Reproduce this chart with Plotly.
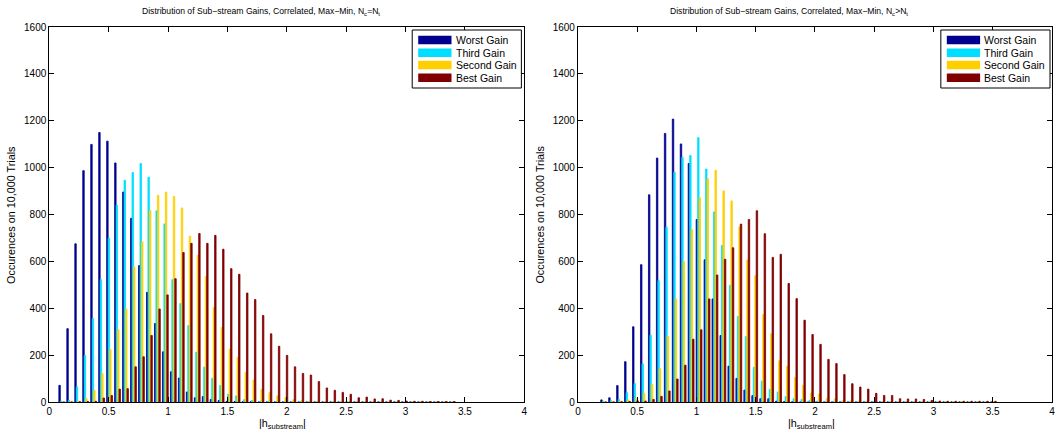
import plotly.graph_objects as go

# ---------------- data ----------------
series_names = ["Worst Gain", "Third Gain", "Second Gain", "Best Gain"]
series_colors = ["#00008F", "#00DFFF", "#FFCF00", "#800000"]

n_bins = 50
left_first_center = 0.105
right_first_center = 0.217
bin_step = 0.0671
left_centers = [round(left_first_center + bin_step * i, 4) for i in range(n_bins)]
right_centers = [round(right_first_center + bin_step * i, 4) for i in range(n_bins)]

# Left panel: Nc = Nt
left_worst = [71, 313, 675, 987, 1099, 1150, 1113, 1020, 896, 784,
              582, 468, 335, 214, 129, 102, 43, 18, 23, 11,
              7, 3, 2, 1, 1, 0, 0, 0, 0, 0,
              0, 0, 0, 0, 0, 0, 0, 0, 0, 0,
              0, 0, 0, 0, 0, 0, 0, 0, 0, 0]
left_third = [4, 7, 65, 199, 356, 522, 699, 840, 946, 979,
              1018, 959, 816, 760, 522, 420, 326, 213, 149, 101,
              70, 33, 26, 10, 7, 4, 3, 2, 1, 1,
              1, 1, 0, 0, 0, 0, 0, 0, 0, 0,
              0, 0, 0, 0, 0, 0, 0, 0, 0, 0]
left_second = [0, 1, 3, 14, 50, 122, 224, 309, 397, 577,
               684, 818, 882, 896, 877, 828, 708, 626, 535, 403,
               318, 226, 191, 126, 94, 54, 40, 26, 18, 10,
               5, 3, 2, 2, 1, 1, 1, 1, 1, 1,
               1, 1, 1, 1, 1, 1, 1, 1, 1, 1]
left_best = [0, 0, 1, 2, 3, 17, 28, 55, 57, 150,
             193, 284, 397, 457, 526, 638, 677, 719, 677, 711,
             652, 569, 545, 465, 437, 369, 291, 238, 199, 150,
             122, 115, 87, 60, 50, 41, 33, 18, 21, 13,
             14, 8, 7, 4, 3, 3, 2, 2, 2, 2]

# Right panel: Nc > Nt
right_worst = [9, 18, 70, 172, 321, 586, 884, 1041, 1146, 1207,
               1101, 1018, 779, 607, 440, 284, 153, 101, 51, 27,
               14, 14, 4, 2, 1, 0, 0, 0, 0, 0,
               0, 0, 0, 0, 0, 0, 0, 0, 0, 0,
               0, 0, 0, 0, 0, 0, 0, 0, 0, 0]
right_third = [4, 6, 11, 40, 79, 163, 285, 518, 745, 980,
               1044, 1052, 1128, 994, 811, 668, 498, 365, 279, 148,
               89, 54, 43, 23, 14, 11, 7, 4, 3, 2,
               1, 1, 1, 0, 0, 0, 0, 0, 0, 0,
               0, 0, 0, 0, 0, 0, 0, 0, 0, 0]
right_second = [1, 2, 4, 9, 16, 37, 75, 142, 281, 440,
                599, 736, 871, 953, 989, 901, 858, 747, 606, 539,
                373, 291, 176, 153, 105, 71, 38, 34, 16, 14,
                6, 5, 4, 3, 2, 2, 1, 1, 1, 1,
                1, 1, 1, 1, 1, 1, 1, 1, 1, 1]
right_best = [0, 0, 1, 2, 5, 4, 11, 24, 47, 98,
              157, 268, 308, 440, 542, 609, 658, 759, 779, 816,
              718, 617, 630, 506, 441, 349, 288, 246, 182, 164,
              117, 78, 64, 55, 37, 28, 28, 14, 13, 13,
              11, 7, 4, 3, 3, 3, 3, 3, 3, 3]

x_ticks = [0, 0.5, 1, 1.5, 2, 2.5, 3, 3.5, 4]
y_ticks = [0, 200, 400, 600, 800, 1000, 1200, 1400, 1600]

titles = ["Distribution of Sub\u2212stream Gains, Correlated, Max\u2212Min, N<sub>c</sub>=N<sub>t</sub>",
          "Distribution of Sub\u2212stream Gains, Correlated, Max\u2212Min, N<sub>c</sub>>N<sub>t</sub>"]
y_title = "Occurences on 10,000 Trials"
x_title = "|h<sub>substream</sub>|"

# ---------------- layout geometry (pixels) ----------------
W, H = 1058, 438
ML, MR, MT, MB = 49, 3, 27, 36
PW = W - ML - MR
PH = H - MT - MB
left_px = (49.3, 525.7)
right_px = (579.5, 1055.0)
dom_left = [(left_px[0] - ML) / PW, (left_px[1] - ML) / PW]
dom_right = [(right_px[0] - ML) / PW, (right_px[1] - ML) / PW]

FONT = "Liberation Sans, Arial, Helvetica, sans-serif"

fig = go.Figure()

panels = [
    ("x", "y", left_centers, [left_worst, left_third, left_second, left_best]),
    ("x2", "y2", right_centers, [right_worst, right_third, right_second, right_best]),
]
for xa, ya, centers, vals in panels:
    for name, color, v in zip(series_names, series_colors, vals):
        fig.add_trace(go.Bar(
            x=centers, y=v, name=name, xaxis=xa, yaxis=ya,
            marker=dict(color=color, line=dict(color=color, width=0.8)),
            showlegend=False, offsetgroup=name,
        ))

axis_common = dict(
    showline=True, linecolor="black", linewidth=1, mirror="ticks",
    ticks="inside", ticklen=5, tickwidth=1, tickcolor="black",
    showgrid=False, zeroline=False,
    tickfont=dict(family=FONT, size=10, color="black"),
)

fig.update_layout(
    width=W, height=H,
    margin=dict(l=ML, r=MR, t=MT, b=MB, pad=0),
    paper_bgcolor="white", plot_bgcolor="white",
    barmode="group", bargap=0.27, bargroupgap=0.0,
    showlegend=False,
    xaxis=dict(domain=dom_left, range=[0, 4], tickvals=x_ticks, anchor="y", **axis_common),
    yaxis=dict(domain=[0, 1], range=[0, 1600], tickvals=y_ticks, anchor="x", **axis_common),
    xaxis2=dict(domain=dom_right, range=[0, 4], tickvals=x_ticks, anchor="y2", **axis_common),
    yaxis2=dict(domain=[0, 1], range=[0, 1600], tickvals=y_ticks, anchor="x2", **axis_common),
)

# ---------------- titles, axis labels, legends ----------------
shapes = []
annotations = []
for idx, (xa, ya, px) in enumerate([("x", "y", left_px), ("x2", "y2", right_px)]):
    xr, yr = xa + " domain", ya + " domain"
    aw = px[1] - px[0]

    def fx(p):
        return (p - px[0]) / aw

    def fy(p):
        return 1 - (p - MT) / PH

    annotations.append(dict(
        text=titles[idx], xref=xr, yref=yr, x=fx(px[0] + 212), y=fy(12),
        xanchor="center", yanchor="middle", showarrow=False,
        font=dict(family=FONT, size=8.6, color="black")))
    annotations.append(dict(
        text=y_title, xref=xr, yref=yr, x=fx(px[0] - 39), y=0.5, textangle=-90,
        xanchor="center", yanchor="middle", showarrow=False,
        font=dict(family=FONT, size=10.8, color="black")))
    annotations.append(dict(
        text=x_title, xref=xr, yref=yr, x=fx(px[0] + 234), y=fy(424),
        xanchor="center", yanchor="middle", showarrow=False,
        font=dict(family=FONT, size=10.8, color="black")))

    # legend box
    bx0, bx1 = px[0] + 364, px[0] + 473.5
    by0, by1 = 30, 88
    shapes.append(dict(type="rect", xref=xr, yref=yr,
                       x0=fx(bx0), x1=fx(bx1), y0=fy(by1), y1=fy(by0),
                       line=dict(color="black", width=1), fillcolor="white", layer="above"))
    row_y = [40, 52.7, 65, 77.7]
    for name, color, ry in zip(series_names, series_colors, row_y):
        shapes.append(dict(type="rect", xref=xr, yref=yr,
                           x0=fx(px[0] + 370), x1=fx(px[0] + 403.4),
                           y0=fy(ry + 4.3), y1=fy(ry - 4.3),
                           line=dict(width=0), fillcolor=color, layer="above"))
        annotations.append(dict(
            text=name, xref=xr, yref=yr, x=fx(px[0] + 405.5), y=fy(ry),
            xanchor="left", yanchor="middle", showarrow=False,
            font=dict(family=FONT, size=10.5, color="black")))

fig.update_layout(shapes=shapes, annotations=annotations)

fig.write_html("out.html", config={"displayModeBar": False},
               post_script="document.body.style.margin='0px';document.body.style.overflow='hidden';")
